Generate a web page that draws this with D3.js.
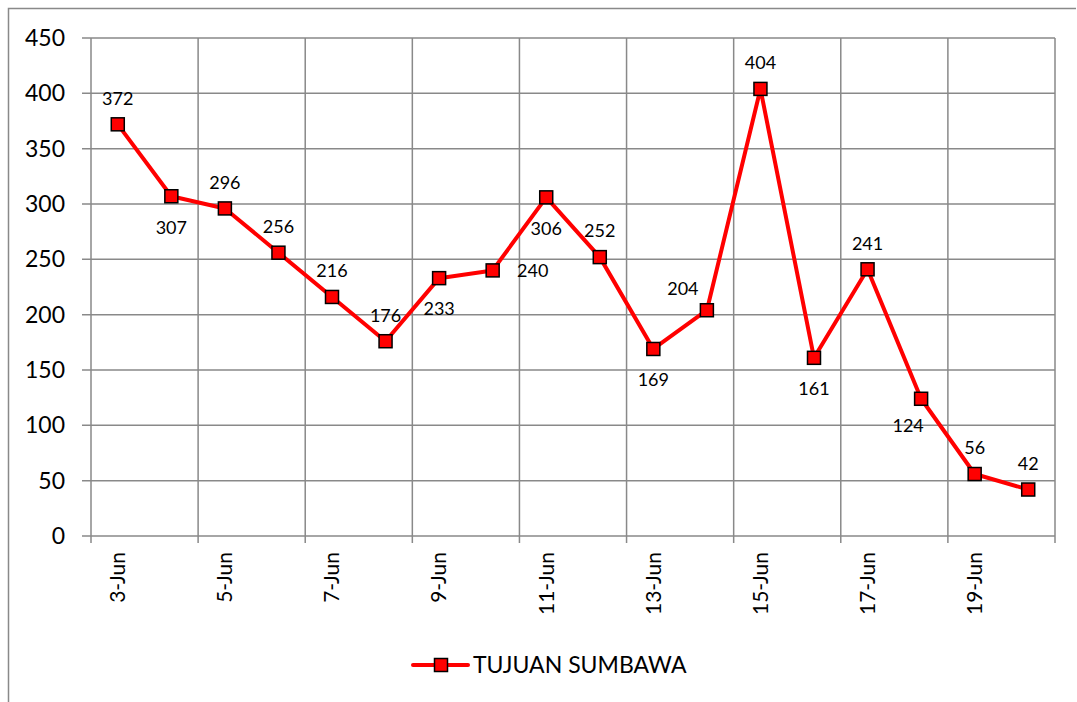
<!DOCTYPE html>
<html>
<head>
<meta charset="utf-8">
<script src="https://cdn.jsdelivr.net/npm/d3@7"></script>
<style>
  body { margin: 0; background: #fff; }
  text { font-family: Lato, "Open Sans", sans-serif; fill: #000; }
</style>
</head>
<body>
<div id="chart"></div>
<script>
(function(){
  var days = ["3-Jun","4-Jun","5-Jun","6-Jun","7-Jun","8-Jun","9-Jun","10-Jun","11-Jun",
              "12-Jun","13-Jun","14-Jun","15-Jun","16-Jun","17-Jun","18-Jun","19-Jun","20-Jun"];
  var values = [372, 307, 296, 256, 216, 176, 233, 240, 306, 252, 169, 204, 404, 161, 241, 124, 56, 42];
  var yTicks = [0, 50, 100, 150, 200, 250, 300, 350, 400, 450];
  var seriesName = "TUJUAN SUMBAWA";
  // where each data label sits relative to its marker
  var labelSide = ["t","b","t","t","t","t","b","r","b","t","b","tl","t","b","t","bl","t","t"];

  var width = 1077, height = 702;
  var margin = {left: 91, top: 38, right: 22, bottom: 166};
  var lineColor = "#ff0000", gridColor = "#898989";

  var svg = d3.select("#chart").append("svg")
    .attr("width", width).attr("height", height);

  // outer frame
  svg.append("path")
    .attr("d", "M8.5,702V8.5H1076")
    .attr("fill", "none").attr("stroke", gridColor).attr("stroke-width", 1.5);

  var x = d3.scaleBand().domain(days).range([margin.left, width - margin.right]);
  var y = d3.scaleLinear().domain([0, 450]).range([height - margin.bottom, margin.top]);

  var g = svg.append("g");

  // horizontal gridlines + y ticks
  g.selectAll(".hgrid").data(yTicks).enter().append("line")
    .attr("x1", margin.left - 9).attr("x2", width - margin.right)
    .attr("y1", function(d){ return y(d); }).attr("y2", function(d){ return y(d); })
    .attr("stroke", gridColor).attr("stroke-width", 1.5);

  // vertical gridlines every two categories
  var vIdx = d3.range(0, days.length + 1, 2);
  g.selectAll(".vgrid").data(vIdx).enter().append("line")
    .attr("x1", function(i){ return margin.left + i * x.step(); })
    .attr("x2", function(i){ return margin.left + i * x.step(); })
    .attr("y1", margin.top).attr("y2", y(0) + 7)
    .attr("stroke", gridColor).attr("stroke-width", 1.5);

  g.selectAll(".ylab").data(yTicks).enter().append("text")
    .attr("x", margin.left - 26).attr("y", function(d){ return y(d); })
    .attr("dy", "0.35em").attr("text-anchor", "end")
    .style("font-size", "23px")
    .text(function(d){ return d; });

  // x labels, every other day, rotated
  g.selectAll(".xlab").data(days.filter(function(d, i){ return i % 2 === 0; }))
    .enter().append("text")
    .attr("transform", function(d){
      return "translate(" + (x(d) + x.bandwidth() / 2) + "," + (y(0) + 16) + ") rotate(-90)";
    })
    .attr("dy", "0.35em").attr("text-anchor", "end")
    .style("font-size", "21px")
    .text(function(d){ return d; });

  var line = d3.line()
    .x(function(d, i){ return x(days[i]) + x.bandwidth() / 2; })
    .y(function(d){ return y(d); });

  g.append("path").datum(values)
    .attr("d", line)
    .attr("fill", "none").attr("stroke", lineColor).attr("stroke-width", 4)
    .attr("stroke-linejoin", "round");

  var ms = 13;
  g.selectAll(".marker").data(values).enter().append("rect")
    .attr("x", function(d, i){ return x(days[i]) + x.bandwidth() / 2 - ms / 2; })
    .attr("y", function(d){ return y(d) - ms / 2; })
    .attr("width", ms).attr("height", ms)
    .attr("fill", lineColor).attr("stroke", "#000").attr("stroke-width", 1.5);

  var offs = {t: [0, -26], b: [0, 31], r: [40, 0], tl: [-24, -22], bl: [-13, 27]};
  g.selectAll(".dlab").data(values).enter().append("text")
    .attr("x", function(d, i){ return x(days[i]) + x.bandwidth() / 2 + offs[labelSide[i]][0]; })
    .attr("y", function(d, i){ return y(d) + offs[labelSide[i]][1]; })
    .attr("dy", "0.35em").attr("text-anchor", "middle")
    .style("font-size", "18px")
    .text(function(d){ return d; });

  // legend
  var lg = svg.append("g").attr("transform", "translate(413,665)");
  lg.append("line").attr("x1", 0).attr("x2", 55)
    .attr("stroke", lineColor).attr("stroke-width", 4).attr("stroke-linecap", "round");
  lg.append("rect").attr("x", 28 - ms / 2).attr("y", -ms / 2)
    .attr("width", ms).attr("height", ms)
    .attr("fill", lineColor).attr("stroke", "#000").attr("stroke-width", 1.5);
  lg.append("text").attr("x", 60).attr("dy", "0.35em")
    .style("font-size", "23px").text(seriesName);
})();
</script>
</body>
</html>
